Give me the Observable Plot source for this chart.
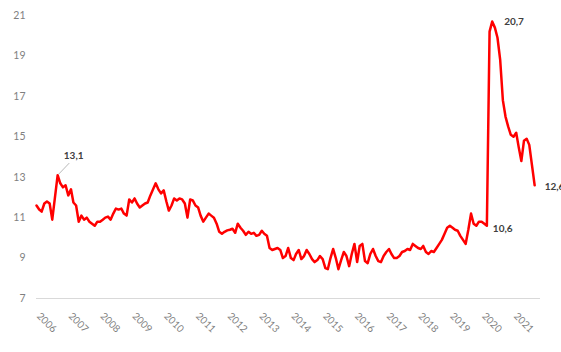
<!DOCTYPE html>
<html>
<head>
<meta charset="utf-8">
<script src="https://cdn.jsdelivr.net/npm/d3@7"></script>
<script src="https://cdn.jsdelivr.net/npm/@observablehq/plot@0.6"></script>
<style>
  html, body { margin: 0; padding: 0; background: #fff; overflow: hidden; }
  #chart { width: 561px; height: 352px; overflow: hidden; }
</style>
</head>
<body>
<div id="chart"></div>
<script>
// Monthly series, Jan 2006 – Sep 2021
const startYear = 2006;
const values = [
  11.6, 11.4, 11.3, 11.7, 11.8, 11.7, 10.9, 12.0, 13.1, 12.7, 12.5, 12.6,
  12.1, 12.4, 11.75, 11.6, 10.8, 11.1, 10.9, 11.0, 10.8, 10.7, 10.6, 10.8,
  10.8, 10.9, 11.0, 11.05, 10.9, 11.2, 11.45, 11.4, 11.45, 11.2, 11.1, 11.9,
  11.75, 11.95, 11.7, 11.5, 11.6, 11.7, 11.75, 12.1, 12.4, 12.7, 12.4, 12.2,
  12.35, 11.8, 11.35, 11.6, 11.95, 11.85, 11.95, 11.9, 11.7, 11.0, 11.9, 11.85,
  11.6, 11.5, 11.1, 10.8, 11.0, 11.2, 11.1, 11.0, 10.7, 10.3, 10.2, 10.3,
  10.37, 10.4, 10.45, 10.25, 10.7, 10.5, 10.35, 10.15, 10.3, 10.2, 10.25, 10.1,
  10.15, 10.35, 10.2, 10.1, 9.5, 9.4, 9.45, 9.5, 9.4, 9.0, 9.1, 9.5,
  9.0, 8.9, 9.2, 9.4, 8.95, 9.1, 9.4, 9.2, 8.95, 8.8, 8.9, 9.1,
  8.95, 8.5, 8.45, 9.0, 9.45, 9.0, 8.45, 8.9, 9.3, 9.1, 8.6, 9.2,
  9.7, 8.8, 9.6, 9.7, 8.85, 8.75, 9.2, 9.45, 9.1, 8.85, 8.8, 9.1,
  9.3, 9.45, 9.2, 9.0, 9.0, 9.1, 9.3, 9.35, 9.45, 9.4, 9.7, 9.6,
  9.5, 9.45, 9.6, 9.3, 9.2, 9.35, 9.3, 9.5, 9.7, 9.9, 10.2, 10.5,
  10.6, 10.5, 10.4, 10.35, 10.1, 9.9, 9.7, 10.4, 11.2, 10.7, 10.6, 10.8,
  10.8, 10.7, 10.6, 20.2, 20.7, 20.4, 19.9, 18.8, 16.8, 16.0, 15.5, 15.1,
  15.0, 15.2, 14.5, 13.8, 14.8, 14.9, 14.6, 13.6, 12.6
];
const yearLabels = ["2006","2007","2008","2009","2010","2011","2012","2013","2014","2015","2016","2017","2018","2019","2020","2021"];
const yTicks = [7, 9, 11, 13, 15, 17, 19, 21];
// Annotated points: month index into values
const annPeak2006 = 8;
const annPre2020 = 170;
const annPeak2020 = 172;
const annLast = values.length - 1;

const start = new Date(Date.UTC(startYear, 0, 1));
const data = values.map((v, i) => ({date: d3.utcMonth.offset(start, i), value: v}));
const years = yearLabels.map(y => ({date: new Date(Date.UTC(+y, 0, 1)), label: y}));
const fmt = v => v.toFixed(1).replace(".", ",");

const font = "Lato, 'Open Sans', sans-serif";
const labelStyle = {fontFamily: font, fontSize: 10, fontWeight: "bold", fill: "#404040"};

const chart = Plot.plot({
  width: 561,
  height: 352,
  marginLeft: 36,
  marginRight: 21,
  marginTop: 15,
  marginBottom: 54,
  style: {fontFamily: font, background: "#fff"},
  x: {type: "utc", domain: [start, new Date(Date.UTC(2021, 10, 7))], axis: null},
  y: {domain: [7, 21], axis: null},
  marks: [
    Plot.ruleY([7], {stroke: "#d9d9d9", strokeWidth: 1}),
    Plot.axisY({ticks: yTicks, tickSize: 0, tickPadding: 11, fontSize: 10.5, color: "#7f7f7f", label: null, tickFormat: d => String(d)}),
    Plot.text(years, {x: "date", y: () => 7, text: "label", rotate: 45, textAnchor: "start", dx: 2, dy: 16, fontSize: 10, fill: "#7f7f7f", fontFamily: font}),
    Plot.line(data, {x: "date", y: "value", stroke: "#ff0000", strokeWidth: 2.5, strokeLinejoin: "round"}),
    Plot.link([data[annPeak2006]], {x1: "date", y1: "value", x2: d => d3.utcMonth.offset(d.date, 4), y2: d => d.value + 0.55, stroke: "#a6a6a6", strokeWidth: 0.8, dx: 1, dy: -1}),
    Plot.text([data[annPeak2006]], {x: "date", y: "value", text: d => fmt(d.value), textAnchor: "middle", dx: 16, dy: -19, ...labelStyle}),
    Plot.text([data[annPeak2020]], {x: "date", y: "value", text: d => fmt(d.value), textAnchor: "start", dx: 12, dy: 0, ...labelStyle}),
    Plot.text([data[annPre2020]], {x: "date", y: "value", text: d => fmt(d.value), textAnchor: "start", dx: 6, dy: 3, ...labelStyle}),
    Plot.text([data[annLast]], {x: "date", y: "value", text: d => fmt(d.value), textAnchor: "start", dx: 10, dy: 1, ...labelStyle})
  ]
});
document.getElementById("chart").appendChild(chart);
</script>
</body>
</html>
